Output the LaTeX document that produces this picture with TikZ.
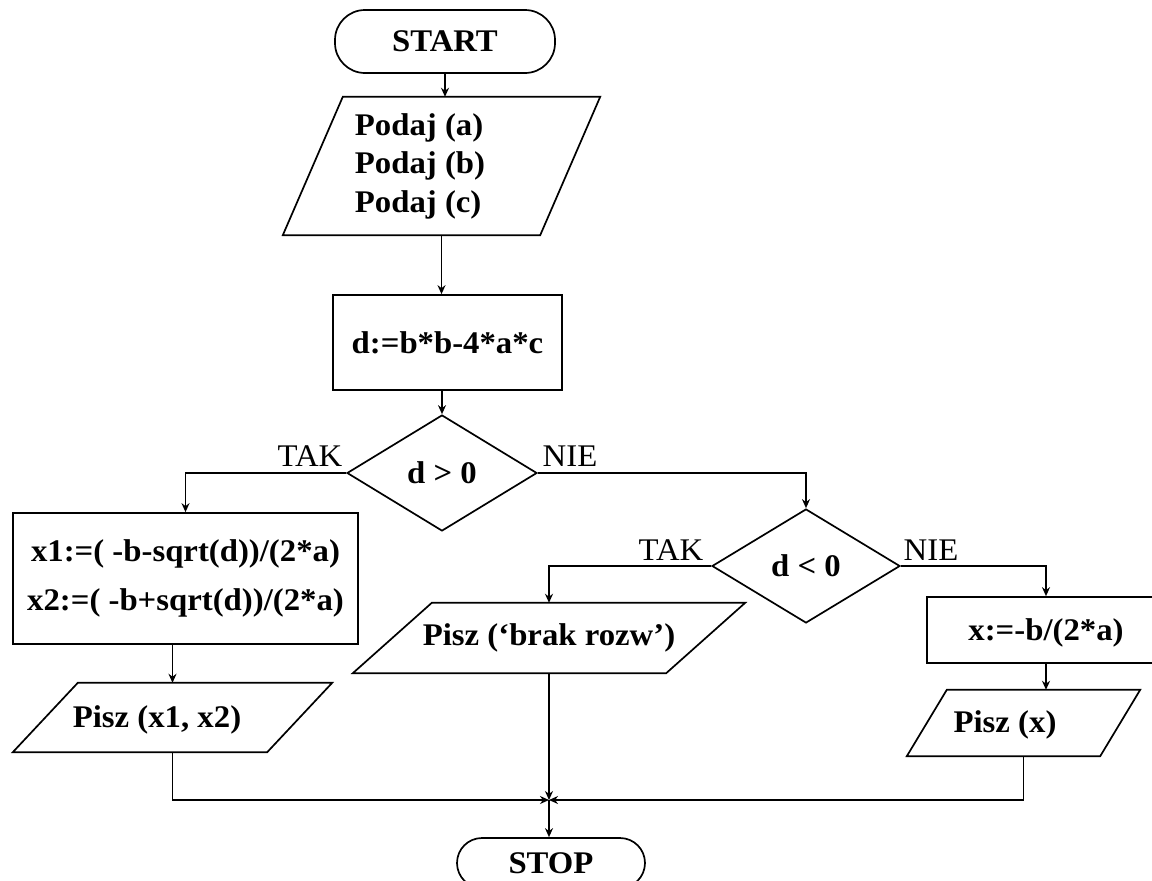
\documentclass[tikz,border=0pt]{standalone}
\usepackage{fontspec}
\setmainfont{Liberation Serif}[FakeStretch=1.04]
\usetikzlibrary{shapes.geometric,arrows.meta}

% draw a parallelogram inside the box of node #1, slanted by #2
\newcommand\ioshape[2]{%
  \draw[flowline] ([xshift=#2]#1.north west) -- (#1.north east)
    -- ([xshift=-#2]#1.south east) -- (#1.south west) -- cycle;}

\begin{document}
\begin{tikzpicture}[x=1pt,y=-1pt,
  flowline/.style={line width=1.7pt},
  every node/.style={font=\fontsize{31.5}{38.5}\selectfont\bfseries, inner sep=0pt},
  proc/.style={draw, flowline, rectangle},
  dec/.style={draw, flowline, diamond, aspect=1.64},
  ioarea/.style={rectangle},
  lbl/.style={font=\fontsize{31.5}{34}\selectfont\mdseries},
  arr/.style={flowline, -{Stealth[length=9pt,width=8pt]}}]

\useasboundingbox (0,0) rectangle (1152,881);
\fill[white] (0,0) rectangle (1152,881);
\clip (0,0) rectangle (1152,881);

% terminals
\node[draw, flowline, rounded corners=30pt, minimum width=220, minimum height=63] (start) at (445,41.5) {START};
\node[draw, flowline, rounded corners=25pt, minimum width=188, minimum height=50] (stop) at (551,863) {STOP};

% input
\node[ioarea, minimum width=317, minimum height=138] (in) at (441.5,166) {};
\ioshape{in}{60}
\node[align=left] (intext) at (420,166) {Podaj (a)\\Podaj (b)\\Podaj (c)};

% discriminant
\node[proc, minimum width=229, minimum height=95] (calc) at (447.5,342.5) {d:=b*b-4*a*c};

% first decision
\node[dec, minimum width=190, minimum height=116] (d1) at (442,473) {d > 0};
\node[lbl] (tak1) at (310,456) {TAK};
\node[lbl] (nie1) at (570,456) {NIE};

% two roots
\node[proc, minimum width=345, minimum height=131, align=center,
      font=\fontsize{31.5}{49}\selectfont\bfseries] (b1) at (185.5,578.5)
  {x1:=( -b-sqrt(d))/(2*a)\\x2:=( -b+sqrt(d))/(2*a)};
\node[ioarea, minimum width=319, minimum height=69] (out1) at (172.5,717.5) {};
\ioshape{out1}{65}
\node (out1t) at (157,720) {Pisz (x1, x2)};

% second decision
\node[dec, minimum width=188, minimum height=114] (d2) at (806,566) {d < 0};
\node[lbl] (tak2) at (671,550) {TAK};
\node[lbl] (nie2) at (931,550) {NIE};

% no roots
\node[ioarea, minimum width=392, minimum height=70] (out2) at (549,638) {Pisz (‘brak rozw’)};
\ioshape{out2}{79}

% one root (box runs past the right edge)
\node[proc, minimum width=260, minimum height=66] (b2) at (1057,630) {};
\node (b2t) at (1046,633) {x:=-b/(2*a)};
\node[ioarea, minimum width=233, minimum height=66] (out3) at (1023.5,723) {};
\ioshape{out3}{40}
\node (out3t) at (1005,725) {Pisz (x)};

% connectors
\coordinate (m) at (549,800);
\draw[arr] (start.south) -- (start.south |- in.north);
\draw[arr] (in.south) -- (in.south |- calc.north);
\draw[arr] (d1.north |- calc.south) -- (d1.north);
\draw[arr] (d1.west) -| (b1.north);
\draw[arr] (d1.east) -| (d2.north);
\draw[arr] (out1.north |- b1.south) -- (out1.north);
\draw[arr] (d2.west) -| (out2.north);
\draw[arr] (d2.east) -| (b2t.north |- b2.north);
\draw[arr] (b2t.south |- b2.south) -- (b2t.south |- out3.north);
\draw[arr] (out1.south) |- (m);
\draw[arr] (out3.south) |- (m);
\draw[arr] (out2.south) -- (m);
\draw[arr] (m) -- (m |- stop.north);
\end{tikzpicture}
\end{document}
